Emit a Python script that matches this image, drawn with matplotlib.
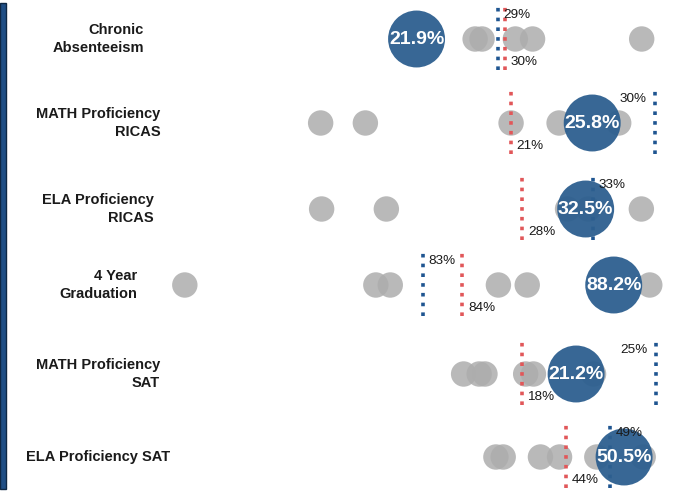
import numpy as np
import matplotlib
matplotlib.use("Agg")
import matplotlib.pyplot as plt
from matplotlib.patches import Rectangle

# data (percent)
metrics = ["Chronic\nAbsenteeism", "MATH Proficiency\nRICAS", "ELA Proficiency\nRICAS",
           "4 Year\nGraduation", "MATH Proficiency\nSAT", "ELA Proficiency SAT"]
district = [21.9, 25.8, 32.5, 88.2, 21.2, 50.5]
peers = [
    [27.0, 27.6, 30.5, 32.0, 41.5],
    [9.4, 12.1, 20.9, 23.8, 27.4],
    [12.1, 17.1, 31.1, 32.7, 36.8],
    [76.3, 81.6, 82.0, 85.0, 85.8, 89.2],
    [15.4, 16.2, 16.5, 18.6, 19.0, 22.1],
    [36.4, 37.2, 41.3, 43.4, 47.5, 52.6],
]
state_avg = [29.6, 20.9, 27.6, 84.0, 18.4, 44.1]
target = [29.0, 29.6, 33.1, 82.9, 25.3, 49.0]

# per-row axis ranges
x_ranges = [(0, 44.4), (0, 30.8), (0, 39.4), (75.75, 89.9), (0, 26.3), (0, 56.1)]
row_centers = [39, 123, 209, 285, 374, 457]  # pixels from top

W, H = 681, 494
fig = plt.figure(figsize=(W / 100, H / 100), dpi=100)

BLUE = "#2d5f8f"
GRAY = "#adadad"
RED_LINE = "#e15759"
BLUE_LINE = "#1f5591"

fig.patches.append(Rectangle((0, 5 / H), 6 / W, 486 / H, transform=fig.transFigure,
                             facecolor="#1f4e85", edgecolor="#0e2744", lw=1))

x0, x1 = 165, 675
for i, name in enumerate(metrics):
    c = row_centers[i]
    ax = fig.add_axes([x0 / W, (H - c - 42) / H, (x1 - x0) / W, 84 / H])
    ax.set_xlim(*x_ranges[i])
    ax.set_ylim(-42, 42)
    ax.axis("off")

    ax.scatter(peers[i], np.zeros(len(peers[i])), s=335, color=GRAY, alpha=0.85,
               edgecolors="none", zorder=2)

    lo, hi = x_ranges[i]
    for val, col, ytxt in [(state_avg[i], RED_LINE, -23), (target[i], BLUE_LINE, 24)]:
        ax.plot([val, val], [-31, 34], color=col, lw=2.6, ls=(0, (1, 1.7)), zorder=3)
        near_right = (val - lo) / (hi - lo) > 0.94
        ax.annotate(f"{val:.0f}%", (val, ytxt), xytext=(-6 if near_right else 4, 0),
                    textcoords="offset points", ha="right" if near_right else "left",
                    va="center", fontsize=9.7, family="Liberation Sans", color="#1a1a1a",
                    zorder=5)

    ax.scatter([district[i]], [0], s=1680, color=BLUE, alpha=0.95, edgecolors="none", zorder=4)
    ax.text(district[i], 0, f"{district[i]:.1f}%", ha="center", va="center", color="white",
            fontsize=14, fontweight="bold", family="Liberation Sans", zorder=6)

    fig.text(98 / W, 1 - c / H, name, ha="center", va="center", multialignment="right",
             fontsize=10.5, fontweight="bold", family="Liberation Sans", color="#1a1a1a",
             linespacing=1.35)

fig.savefig("out.png", dpi=100)
